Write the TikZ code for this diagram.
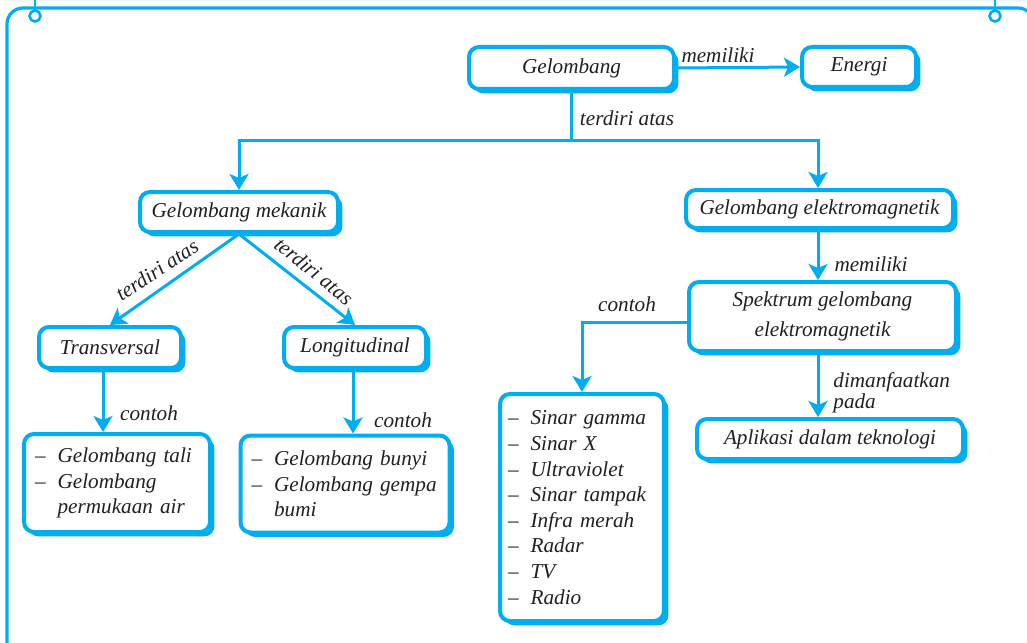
\documentclass[tikz,border=0pt]{standalone}
\usepackage{fontspec}
\setmainfont{Liberation Serif}
\usetikzlibrary{arrows.meta,shadows}
\definecolor{bc}{RGB}{0,174,239}
\definecolor{tc}{RGB}{35,31,32}
\newcommand{\dl}{\textendash\hspace{6pt}}
\newcommand{\fs}{\fontsize{10.6}{12.8}\selectfont}
\hyphenpenalty=10000
\begin{document}
\begin{tikzpicture}[x=0.5pt,y=-0.5pt,
  box/.style={draw=bc, line width=2pt, rounded corners=5pt, fill=white,
    drop shadow={shadow xshift=2.2pt, shadow yshift=-2.2pt, fill=bc, opacity=1},
    text=tc, font=\itshape\fs, inner sep=0pt, align=center},
  lbox/.style={box, align=left, inner xsep=5.5pt},
  conn/.style={draw=bc, line width=1.5pt, -{Stealth[length=8pt,width=9.5pt,inset=2pt]}},
  lbl/.style={text=tc, font=\itshape\fs, inner sep=0pt}]
\useasboundingbox (0,0) rectangle (1027,642);
\begin{scope}
\clip (0,0) rectangle (1027,642);
\fill[bc!8] (9,0) rectangle (1027,2.5);
\draw[bc, line width=1.6pt, rounded corners=8pt] (7,680) -- (7,8) -- (1034,8) -- (1034,680);
\end{scope}
\draw[bc, line width=1.3pt] (35,0) -- (35,10);
\draw[bc, line width=1.3pt] (995,0) -- (995,10);
\node[circle, draw=bc, line width=1.3pt, fill=white, minimum size=5.5pt, inner sep=0pt] (c1) at (35,16) {};
\node[circle, draw=bc, line width=1.3pt, fill=white, minimum size=5.5pt, inner sep=0pt] (c2) at (995,16) {};

% nodes
\node[box, minimum width=102.5pt, minimum height=21pt] (gel) at (571.5,68) {Gelombang};
\node[box, minimum width=57pt, minimum height=20pt] (en) at (859,67) {Energi};
\node[box, minimum width=99pt, minimum height=20pt] (mek) at (239,212) {Gelombang mekanik};
\node[box, minimum width=133.5pt, minimum height=19pt] (elek) at (819.5,209) {Gelombang elektromagnetik};
\node[box, minimum width=133.5pt, minimum height=34.5pt] (spek) at (822.5,316.5) {Spektrum gelombang\\[2pt]elektromagnetik};
\node[box, minimum width=133pt, minimum height=20pt] (apl) at (830,439) {Aplikasi dalam teknologi};
\node[box, minimum width=71pt, minimum height=20.5pt] (trans) at (110,347.5) {Transversal};
\node[box, minimum width=71pt, minimum height=20.5pt] (long) at (355,347.5) {Longitudinal};
\node[lbox, text width=82pt, minimum height=49pt] (b1) at (117,483) {\dl Gelombang tali\\\dl Gelombang\\\phantom{\dl}permukaan air};
\node[lbox, text width=93.5pt, minimum height=48.5pt] (b2) at (345,484) {\dl Gelombang bunyi\\\dl Gelombang gempa\\\phantom{\dl}bumi};
\node[lbox, text width=74pt, inner xsep=4pt, minimum height=113.5pt] (list) at (582,507.5)
 {\dl Sinar gamma\\\dl Sinar X\\\dl Ultraviolet\\\dl Sinar tampak\\\dl Infra merah\\\dl Radar\\\dl TV\\\dl Radio};

% coordinates
\coordinate (j) at (571,140);
\coordinate (xa) at (818,0);
\coordinate (cc) at (581,322);
\coordinate (xt) at (103,0);
\coordinate (xl) at (353,0);

% connectors
\draw[conn] (gel.east) -- (en.west);
\draw[conn] (gel.south) -- (gel.south |- j) -| (elek.north -| xa);
\draw[conn] (gel.south |- j) -| (mek.north);
\draw[conn] (elek.south -| xa) -- (spek.north -| xa);
\draw[conn] (spek.south -| xa) -- (apl.north -| xa);
\draw[conn] (spek.west |- cc) -| (list.north);
\draw[conn] (mek.south) -- (trans.north);
\draw[conn] (mek.south) -- (long.north);
\draw[conn] (trans.south -| xt) -- (b1.north -| xt);
\draw[conn] (long.south -| xl) -- (b2.north -| xl);

% labels
\node[lbl] (l1) at (718,55) {memiliki};
\node[lbl] (l2) at (627,118) {terdiri atas};
\node[lbl] (l3) at (871,264) {memiliki};
\node[lbl, anchor=north west, align=left, font=\itshape\fontsize{10.6}{9.5}\selectfont] (l4) at (833,372) {dimanfaatkan\\pada};
\node[lbl] (l5) at (627,304) {contoh};
\node[lbl] (l6) at (149,413) {contoh};
\node[lbl] (l7) at (403,420) {contoh};
\node[lbl, rotate=33.4] (l8) at (157,270) {terdiri atas};
\node[lbl, rotate=-39] (l9) at (314,271) {terdiri atas};
\end{tikzpicture}
\end{document}
